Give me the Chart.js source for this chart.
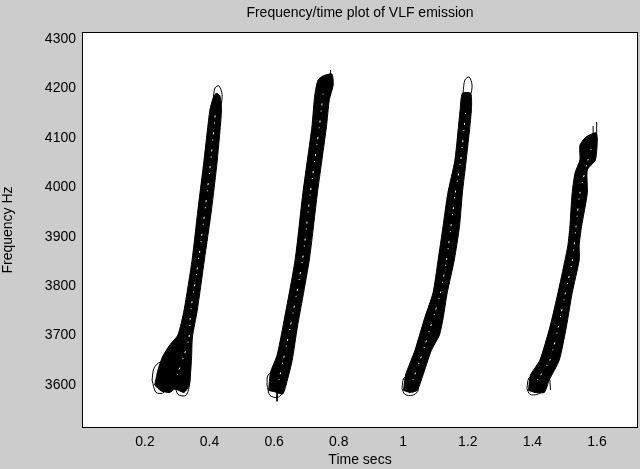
<!DOCTYPE html>
<html lang="en">
<head>
    <meta charset="UTF-8">
    <title>Frequency/time plot of VLF emission</title>
    <script src="https://cdn.jsdelivr.net/npm/chart.js"></script>
    <style>
        body {
            margin: 0;
            padding: 0;
            background: #cccccc;
        }
        #chartContainer {
            width: 640px;
            height: 469px;
        }
    </style>
</head>
<body>
    <div id="chartContainer">
        <canvas id="vlfChart" width="640" height="469"></canvas>
    </div>

    <script>
        // axis limits and ticks
        const timeRange = [0.005, 1.727];
        const freqRange = [3513, 4314];
        const timeTicks = [0.2, 0.4, 0.6, 0.8, 1.0, 1.2, 1.4, 1.6];
        const timeTickLabels = ['0.2', '0.4', '0.6', '0.8', '1', '1.2', '1.4', '1.6'];
        const freqTicks = [3600, 3700, 3800, 3900, 4000, 4100, 4200, 4300];

        // outline of each rising tone (time s, frequency Hz), closed contour
        const tone1Time = [0.230, 0.240, 0.255, 0.277, 0.302, 0.321, 0.346, 0.364, 0.383, 0.401, 0.411, 0.420,
                           0.432, 0.437, 0.424, 0.406, 0.384, 0.362, 0.347, 0.344, 0.337, 0.321, 0.293, 0.277, 0.250, 0.230];
        const tone1Freq = [3600, 3630, 3658, 3681, 3701, 3751, 3853, 3954, 4055, 4156, 4180, 4190,
                           4185, 4156, 4055, 3954, 3853, 3751, 3697, 3650, 3600, 3585, 3592, 3585, 3588, 3600];

        const tone2Time = [0.583, 0.589, 0.609, 0.627, 0.665, 0.689, 0.717, 0.726, 0.736, 0.751,
                           0.779, 0.783, 0.771, 0.762, 0.734, 0.709, 0.672, 0.656, 0.641, 0.627, 0.603, 0.583];
        const tone2Freq = [3589, 3626, 3660, 3717, 3853, 3988, 4122, 4187, 4217, 4225,
                           4229, 4207, 4177, 4122, 3988, 3853, 3717, 3650, 3610, 3582, 3586, 3589];

        const tone3Time = [1.001, 1.007, 1.036, 1.067, 1.092, 1.108, 1.123, 1.138, 1.160, 1.176, 1.183,
                           1.209, 1.211, 1.195, 1.183, 1.174, 1.158, 1.136, 1.124, 1.112, 1.087, 1.059, 1.043, 1.021, 1.001];
        const tone3Freq = [3589, 3620, 3670, 3737, 3786, 3853, 3920, 3988, 4055, 4156, 4190,
                           4190, 4156, 4055, 3988, 3920, 3853, 3786, 3737, 3701, 3670, 3616, 3589, 3585, 3589];

        const tone4Time = [1.388, 1.394, 1.423, 1.454, 1.479, 1.501, 1.510, 1.516, 1.523, 1.532, 1.547, 1.547, 1.563,
                           1.578, 1.597, 1.601, 1.595, 1.570, 1.570, 1.552, 1.545, 1.545, 1.523, 1.505, 1.483, 1.452,
                           1.437, 1.408, 1.388];
        const tone4Freq = [3589, 3620, 3650, 3717, 3786, 3853, 3883, 3920, 3988, 4029, 4055, 4085, 4100,
                           4106, 4110, 4096, 4055, 4035, 3988, 3920, 3883, 3853, 3786, 3717, 3650, 3610,
                           3585, 3585, 3589];

        // small closed contours at the ends of the tones
        const loopTimes = [
            [0.222, 0.228, 0.247, 0.265, 0.271, 0.259, 0.234, 0.222],
            [0.293, 0.296, 0.315, 0.336, 0.339, 0.327, 0.302, 0.293],
            [0.578, 0.581, 0.603, 0.627, 0.630, 0.612, 0.587, 0.578],
            [0.996, 1.002, 1.024, 1.045, 1.045, 1.027, 1.005, 0.996],
            [1.383, 1.389, 1.408, 1.430, 1.433, 1.414, 1.392, 1.383],
            [0.411, 0.417, 0.429, 0.439, 0.432, 0.411],
            [1.185, 1.191, 1.204, 1.213, 1.207, 1.185]
        ];
        const loopFreqs = [
            [3610, 3634, 3646, 3634, 3610, 3585, 3585, 3610],
            [3600, 3634, 3650, 3634, 3606, 3579, 3581, 3600],
            [3600, 3620, 3626, 3614, 3589, 3575, 3579, 3600],
            [3593, 3614, 3618, 3606, 3587, 3579, 3581, 3593],
            [3593, 3614, 3618, 3608, 3589, 3581, 3581, 3593],
            [4177, 4201, 4205, 4187, 4162, 4177],
            [4191, 4217, 4223, 4207, 4187, 4191]
        ];

        // stray contour spikes
        const spikeTimes = [[0.609, 0.609], [0.773, 0.775], [1.597, 1.599], [1.588, 1.588], [1.454, 1.456], [0.318, 0.318]];
        const spikeFreqs = [[3585, 3567], [4217, 4237], [4096, 4132], [4100, 4124], [3610, 3590], [3690, 3712]];

        // ridges inside each tone (gaps between contour lines show as white specks)
        const ridgeTimes = [
            [0.300, 0.335, 0.342, 0.366, 0.386, 0.404, 0.418],
            [0.615, 0.650, 0.688, 0.712, 0.740, 0.752],
            [1.030, 1.062, 1.115, 1.134, 1.161, 1.178, 1.194],
            [1.415, 1.454, 1.480, 1.502, 1.524, 1.535, 1.547, 1.572, 1.585]
        ];
        const ridgeFreqs = [
            [3620, 3690, 3751, 3853, 3954, 4055, 4150],
            [3610, 3717, 3853, 3988, 4122, 4190],
            [3610, 3670, 3786, 3853, 3988, 4055, 4156],
            [3610, 3650, 3717, 3786, 3853, 3920, 3988, 4055, 4085]
        ];

        function toPoints(times, freqs) {
            return times.map((t, i) => ({ x: t, y: freqs[i] }));
        }

        const datasets = [];

        [[tone1Time, tone1Freq], [tone2Time, tone2Freq], [tone3Time, tone3Freq], [tone4Time, tone4Freq]].forEach(pair => {
            datasets.push({
                data: toPoints(pair[0], pair[1]),
                showLine: true,
                fill: 'shape',
                backgroundColor: '#000000',
                borderColor: '#000000',
                borderWidth: 1,
                pointRadius: 0,
                tension: 0.2,
                order: 4
            });
        });

        ridgeTimes.forEach((times, i) => {
            datasets.push({
                data: toPoints(times, ridgeFreqs[i]),
                showLine: true,
                fill: false,
                borderColor: '#ffffff',
                borderWidth: 1,
                borderDash: [1, 5, 2, 9],
                pointRadius: 0,
                tension: 0.2,
                order: 3
            });
        });

        loopTimes.forEach((times, i) => {
            datasets.push({
                data: toPoints(times, loopFreqs[i]),
                showLine: true,
                fill: false,
                borderColor: '#000000',
                borderWidth: 1,
                pointRadius: 0,
                tension: 0.3,
                order: 2
            });
        });

        spikeTimes.forEach((times, i) => {
            datasets.push({
                data: toPoints(times, spikeFreqs[i]),
                showLine: true,
                fill: false,
                borderColor: '#000000',
                borderWidth: 1,
                pointRadius: 0,
                order: 1
            });
        });

        // white plot area with a full box around it
        const plotBox = {
            id: 'plotBox',
            beforeDraw(chart) {
                const a = chart.chartArea;
                const ctx = chart.ctx;
                ctx.save();
                ctx.fillStyle = '#ffffff';
                ctx.fillRect(a.left, a.top, a.right - a.left, a.bottom - a.top);
                ctx.restore();
            },
            afterDraw(chart) {
                const a = chart.chartArea;
                const ctx = chart.ctx;
                ctx.save();
                ctx.strokeStyle = '#000000';
                ctx.lineWidth = 1;
                ctx.strokeRect(a.left + 0.5, a.top + 0.5, a.right - a.left - 1, a.bottom - a.top - 1);
                ctx.restore();
            }
        };

        const font = { family: "'Liberation Sans', Arial, sans-serif", size: 14 };

        new Chart(document.getElementById('vlfChart').getContext('2d'), {
            type: 'scatter',
            data: { datasets: datasets },
            options: {
                responsive: false,
                animation: false,
                layout: { padding: { top: 0, right: 2, bottom: 0, left: 0 } },
                plugins: {
                    legend: { display: false },
                    tooltip: { enabled: false },
                    title: {
                        display: true,
                        fullSize: false,
                        text: 'Frequency/time plot of VLF emission',
                        color: '#000000',
                        font: { family: font.family, size: 14, weight: 'normal' },
                        padding: { top: 5, bottom: 10.2 }
                    }
                },
                scales: {
                    x: {
                        type: 'linear',
                        min: timeRange[0],
                        max: timeRange[1],
                        afterBuildTicks: scale => {
                            scale.ticks = timeTicks.map(v => ({ value: v }));
                        },
                        afterFit: scale => { scale.height = 41; },
                        grid: { display: false, drawTicks: false },
                        border: { display: false },
                        ticks: {
                            color: '#000000',
                            font: font,
                            padding: 6,
                            maxRotation: 0,
                            autoSkip: false,
                            callback: (value, i) => timeTickLabels[i]
                        },
                        title: {
                            display: true,
                            text: 'Time secs',
                            color: '#000000',
                            font: font,
                            padding: { top: 0, bottom: 0 }
                        }
                    },
                    y: {
                        type: 'linear',
                        min: freqRange[0],
                        max: freqRange[1],
                        afterBuildTicks: scale => {
                            scale.ticks = freqTicks.map(v => ({ value: v }));
                        },
                        afterFit: scale => { scale.width = 82; },
                        grid: { display: false, drawTicks: false },
                        border: { display: false },
                        ticks: {
                            color: '#000000',
                            font: font,
                            padding: 6,
                            autoSkip: false,
                            callback: value => String(value)
                        },
                        title: {
                            display: true,
                            text: 'Frequency Hz',
                            color: '#000000',
                            font: font,
                            padding: { top: 0, bottom: 4 }
                        }
                    }
                }
            },
            plugins: [plotBox]
        });
    </script>
</body>
</html>
